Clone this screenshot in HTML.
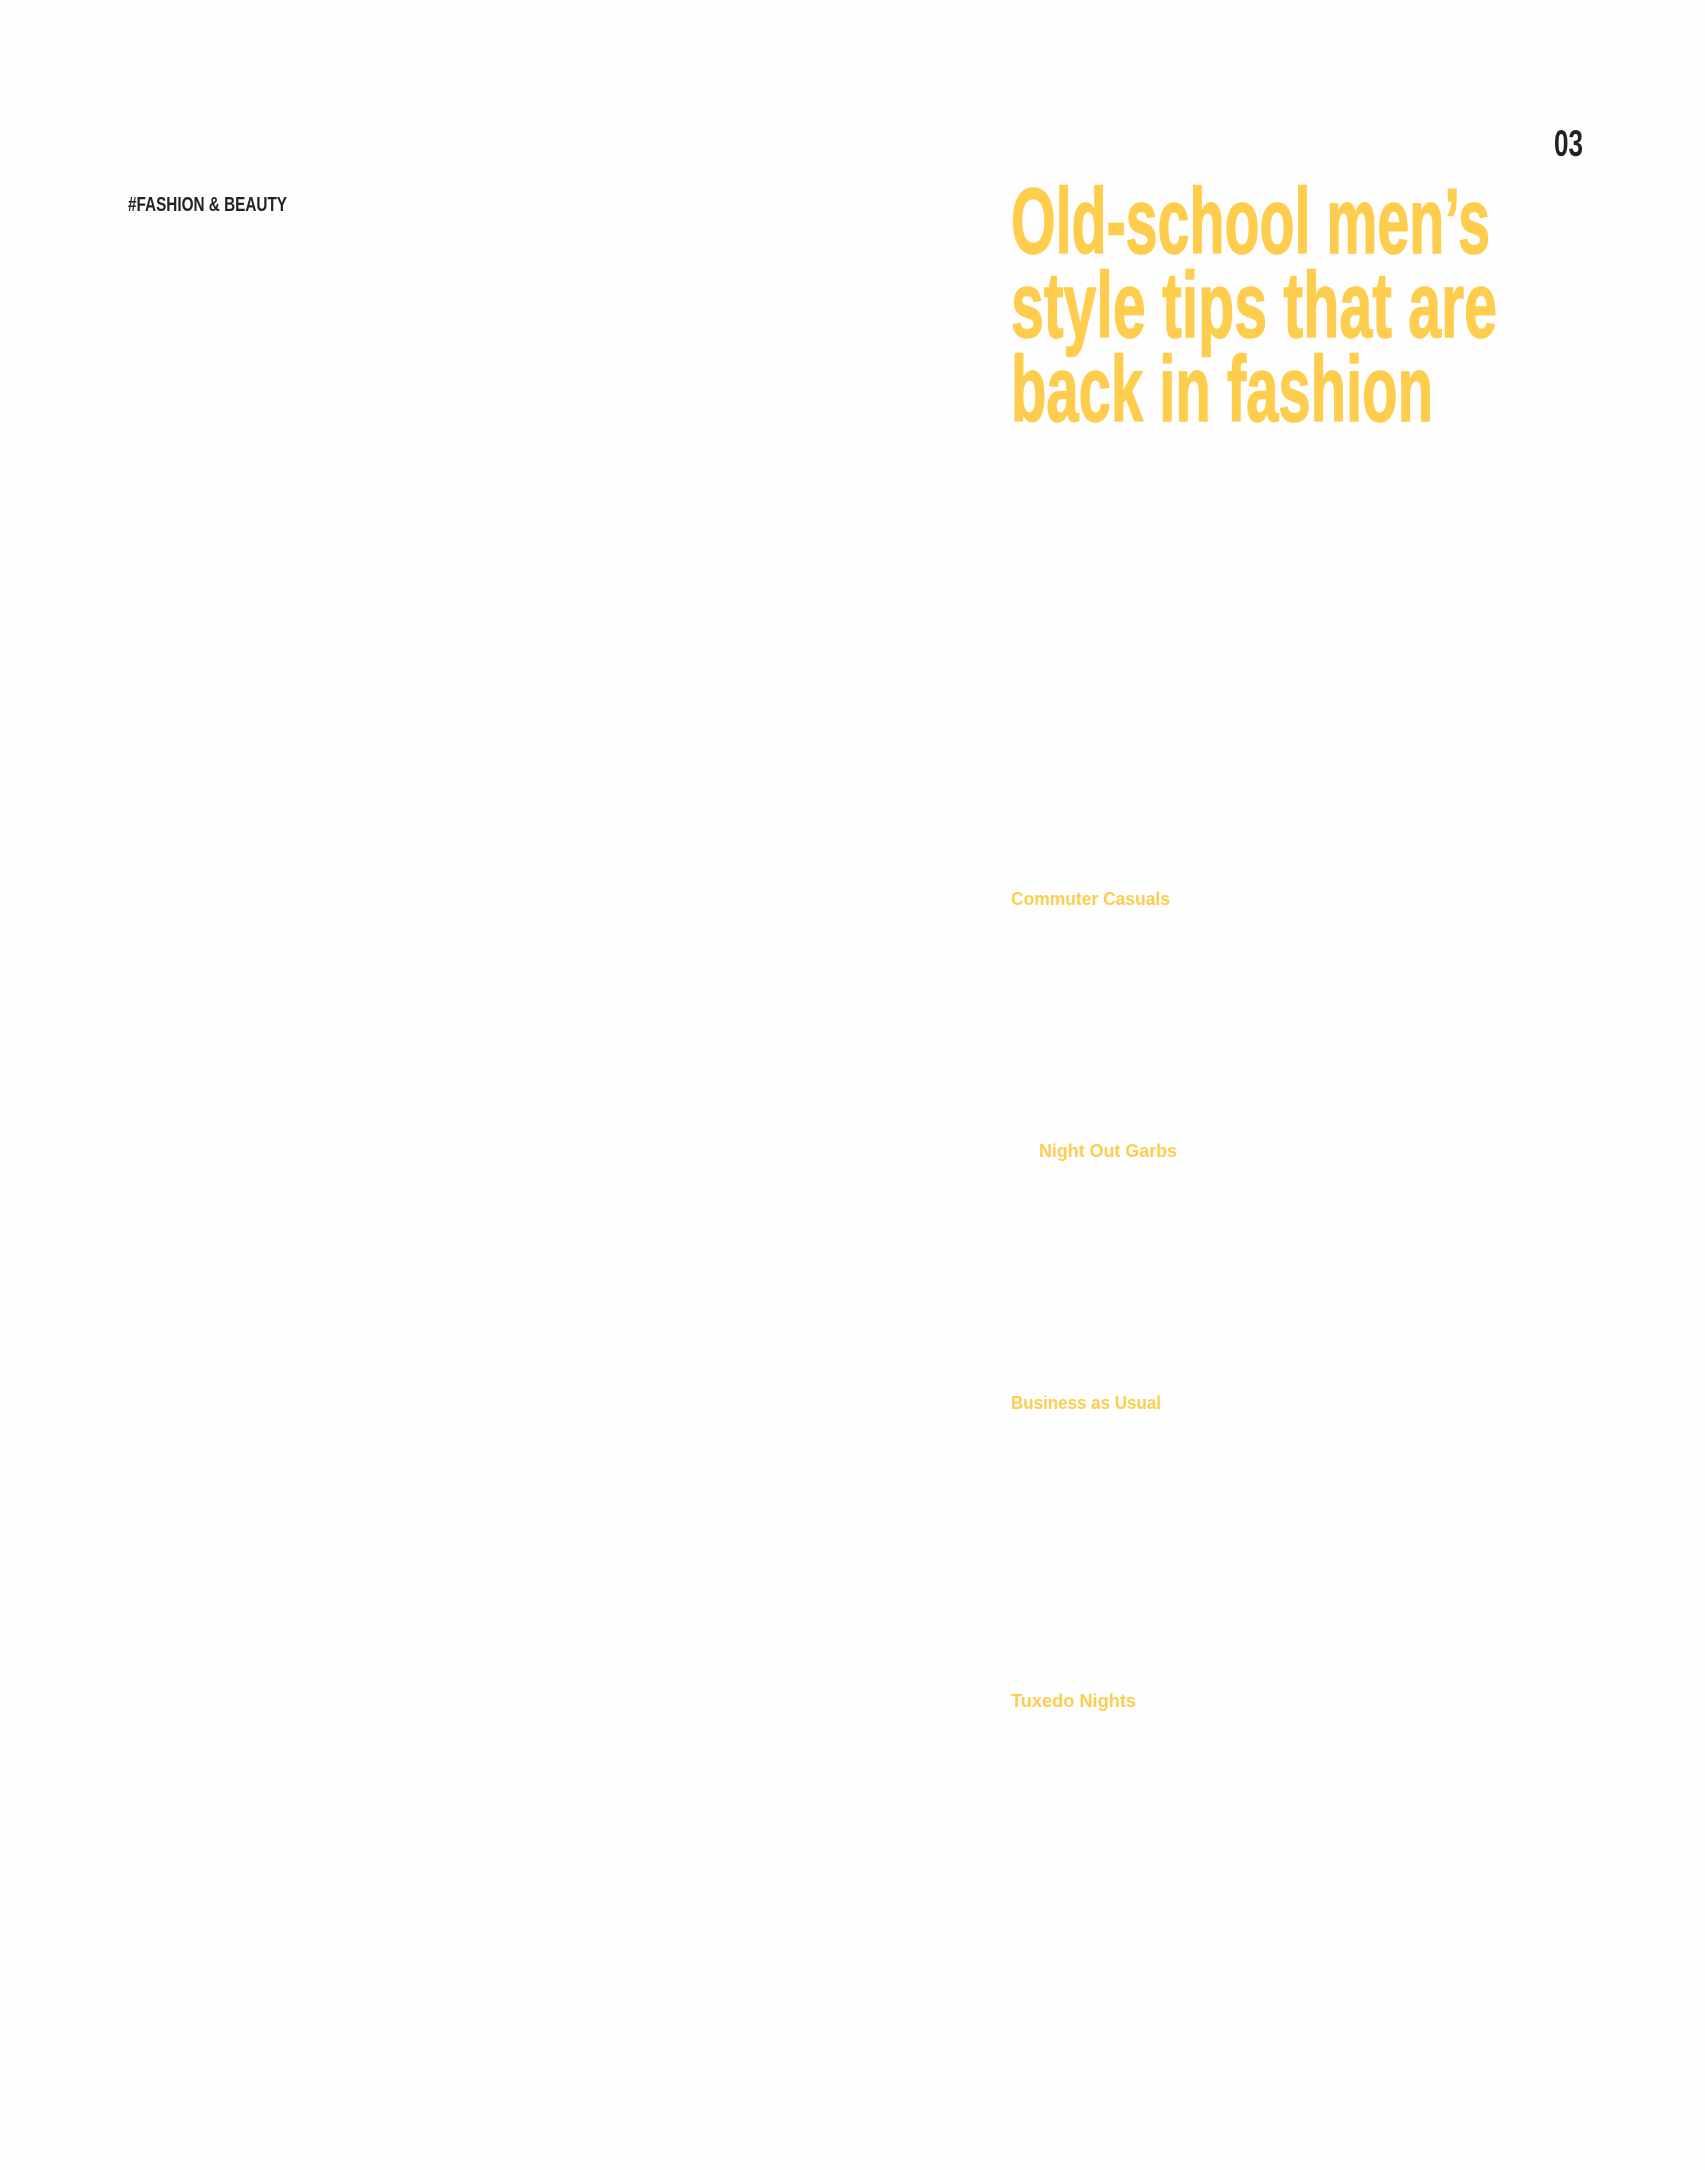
<!DOCTYPE html>
<html><head><meta charset="utf-8"><style>html,body{margin:0;padding:0;background:#fff;}svg{display:block}</style></head>
<body>
<svg width="1705" height="2170" viewBox="0 0 1705 2170" xmlns="http://www.w3.org/2000/svg">
<rect width="1705" height="2170" fill="#fefefe"/>
<text x="128" y="211" font-family="Liberation Sans Narrow, Liberation Sans, sans-serif" font-weight="bold" font-size="20" fill="#222" textLength="159" lengthAdjust="spacingAndGlyphs">#FASHION &amp; BEAUTY</text>
<text x="1554" y="156" font-family="Liberation Sans Narrow, Liberation Sans, sans-serif" font-weight="bold" font-size="37" fill="#222" textLength="29" lengthAdjust="spacingAndGlyphs">03</text>
<g font-family="Liberation Sans Narrow, Liberation Sans, sans-serif" font-weight="bold" font-size="93" fill="#FFCD4D" stroke="#FFCD4D" stroke-width="1.5">
<text x="1011" y="253" textLength="479" lengthAdjust="spacingAndGlyphs">Old-school men’s</text>
<text x="1011" y="337" textLength="486" lengthAdjust="spacingAndGlyphs">style tips that are</text>
<text x="1011" y="421" textLength="422" lengthAdjust="spacingAndGlyphs">back in fashion</text>
</g>
<g font-family="Liberation Sans, sans-serif" font-weight="bold" font-size="18" fill="#FFCD4D">
<text x="1011" y="905" textLength="159" lengthAdjust="spacingAndGlyphs">Commuter Casuals</text>
<text x="1039" y="1157" textLength="138" lengthAdjust="spacingAndGlyphs">Night Out Garbs</text>
<text x="1011" y="1409" textLength="150" lengthAdjust="spacingAndGlyphs">Business as Usual</text>
<text x="1011" y="1707" textLength="125" lengthAdjust="spacingAndGlyphs">Tuxedo Nights</text>
</g>
</svg>
</body></html>
